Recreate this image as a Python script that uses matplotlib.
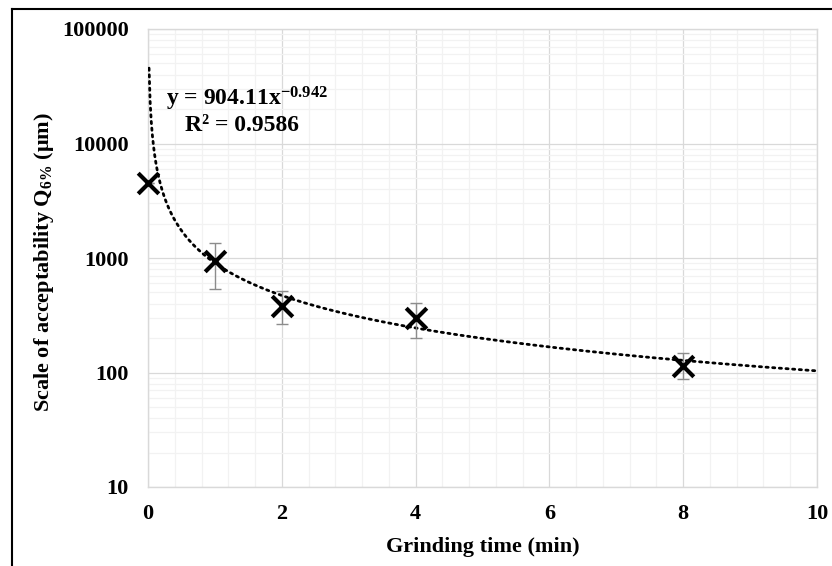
import numpy as np
import matplotlib
matplotlib.use("Agg")
import matplotlib.pyplot as plt
from matplotlib.lines import Line2D
from matplotlib.ticker import FixedLocator, LogLocator, NullFormatter, MultipleLocator

plt.rcParams['font.family'] = ['Liberation Serif', 'DejaVu Serif']
plt.rcParams['font.weight'] = 'bold'
plt.rcParams['mathtext.fontset'] = 'custom'
plt.rcParams['mathtext.rm'] = 'Liberation Serif:bold'
plt.rcParams['mathtext.it'] = 'Liberation Serif:bold:italic'
plt.rcParams['mathtext.bf'] = 'Liberation Serif:bold'

# data
grind_time = [0, 1, 2, 4, 8]
q6 = [4520, 942, 381, 301, 115]
err_hi = [4520, 1352, 515, 402, 147]
err_lo = [4520, 540, 264, 199, 88]

# Excel power trendline
coef_a = 904.11
coef_b = -0.942
r2 = 0.9586

x_ticks = [0, 2, 4, 6, 8, 10]
y_ticks = [10, 100, 1000, 10000, 100000]

FS = 16

fig = plt.figure(figsize=(8.32, 5.66), dpi=100)
ax = fig.add_axes([148 / 832, 1 - 487 / 566, (817 - 148) / 832, (487 - 29) / 566])

ax.set_yscale('log')
ax.set_xlim(0, 10)
ax.set_ylim(10, 100000)

ax.xaxis.set_major_locator(FixedLocator(x_ticks))
ax.xaxis.set_minor_locator(MultipleLocator(0.4))
ax.yaxis.set_major_locator(FixedLocator(y_ticks))
ax.yaxis.set_minor_locator(LogLocator(base=10, subs=np.arange(2, 10)))
ax.yaxis.set_minor_formatter(NullFormatter())
ax.set_yticklabels([str(v) for v in y_ticks])
ax.set_xticklabels([str(v) for v in x_ticks])

ax.grid(True, which='major', color='#d9d9d9', lw=0.9)
ax.grid(True, which='minor', color='#f2f2f2', lw=0.9)
ax.set_axisbelow(True)
ax.tick_params(which='both', length=0, labelsize=FS)
ax.tick_params(axis='y', pad=14)
ax.tick_params(axis='x', pad=12)
for s in ax.spines.values():
    s.set_color('#d9d9d9')
    s.set_linewidth(1)

# trendline
xs = np.linspace(0.0156, 10, 600)
ax.plot(xs, coef_a * xs ** coef_b, color='black', lw=2, ls=(0, (0.8, 1.6)),
        dash_capstyle='round', zorder=3)

# error bars
yerr = [np.array(q6) - np.array(err_lo), np.array(err_hi) - np.array(q6)]
ax.errorbar(grind_time, q6, yerr=yerr, fmt='none', ecolor='#8c8c8c', elinewidth=1,
            capsize=4, capthick=1, zorder=4)
ax.scatter(grind_time, q6, marker='x', s=220, color='black', linewidths=3, zorder=5,
           clip_on=False)

ax.text(0.27, 24400, 'y = 904.11x$^{\\mathrm{-0.942}}$', fontsize=FS + 1, fontweight='bold',
        ha='left', va='center')
ax.text(0.55, 14250, 'R² = 0.9586', fontsize=FS + 1, fontweight='bold', ha='left',
        va='center')

ax.set_xlabel('Grinding time (min)', fontsize=FS, fontweight='bold')
ax.xaxis.set_label_coords(0.5, (487 - 537) / 458)
ax.set_ylabel('Scale of acceptability Q$_{\\mathrm{6\\%}}$ (μm)', fontsize=FS,
              fontweight='bold')
ax.yaxis.set_label_coords((56 - 148) / 669, 0.49)

# outer frame visible on left and top
fig.add_artist(Line2D([12 / 832, 12 / 832], [0, 1 - 9 / 566], color='black', lw=1.5,
                      transform=fig.transFigure))
fig.add_artist(Line2D([12 / 832, 1], [1 - 9 / 566, 1 - 9 / 566], color='black', lw=1.5,
                      transform=fig.transFigure))

fig.savefig('out.png', dpi=100, facecolor='white')
